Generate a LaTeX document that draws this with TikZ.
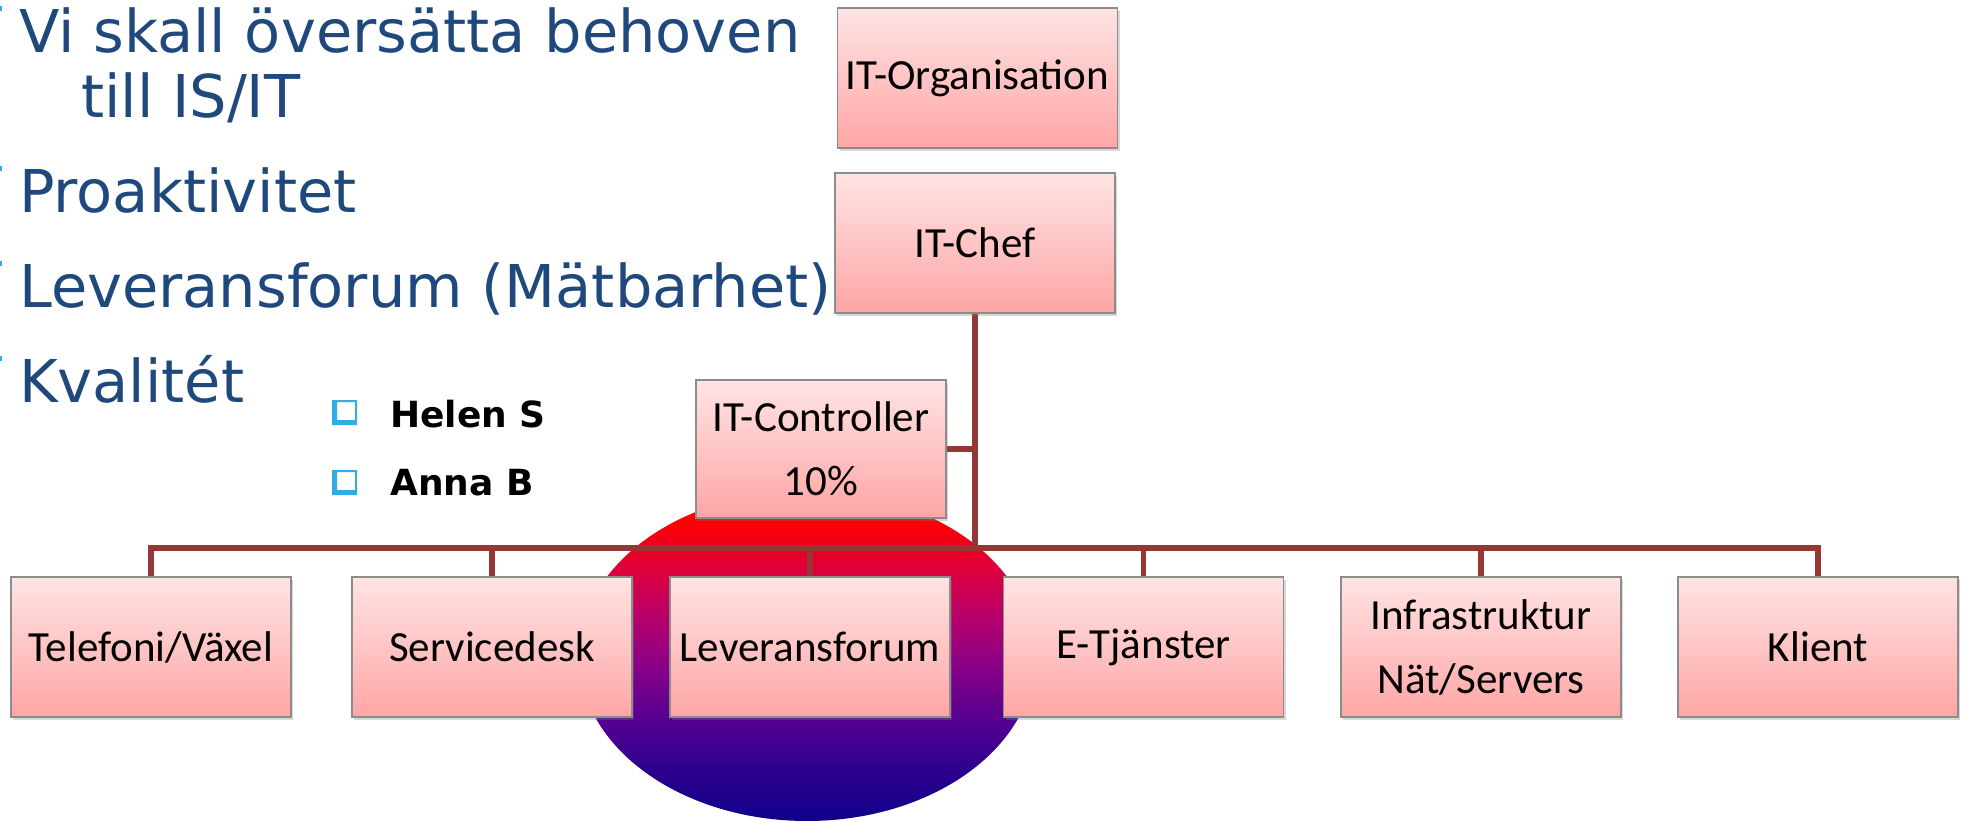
\documentclass[tikz,border=0pt]{standalone}
\usepackage{fontspec}
\setmainfont{Carlito}
\newfontfamily\leftfont{DejaVu Sans}
\usetikzlibrary{shadows}
\definecolor{txtblue}{HTML}{1F497D}
\definecolor{conn}{HTML}{953735}
\definecolor{boxedge}{HTML}{8C8C8C}
\definecolor{pinktop}{HTML}{FFE4E4}
\definecolor{pinkbot}{HTML}{FFA5A5}
\definecolor{bul}{HTML}{2EAEE4}
\pgfdeclareverticalshading{elshade}{100bp}{rgb(0bp)=(0.063,0,0.54); rgb(25bp)=(0.063,0,0.54); rgb(33.5bp)=(0.188,0,0.557); rgb(41bp)=(0.353,0,0.565); rgb(48.5bp)=(0.541,0,0.533); rgb(56bp)=(0.722,0,0.416); rgb(63.5bp)=(0.878,0,0.227); rgb(70.5bp)=(1,0,0); rgb(100bp)=(1,0,0)}
\pgfdeclarelayer{bg}
\pgfsetlayers{bg,main}
\tikzset{
  orgbox/.style={draw=boxedge, line width=1.2pt, top color=pinktop, bottom color=pinkbot,
    minimum width=280pt, minimum height=140pt, inner sep=0pt, align=center,
    font=\fontsize{43}{64}\selectfont,
    drop shadow={opacity=0.3, shadow xshift=2pt, shadow yshift=-3pt}},
  lefttxt/.style={inner sep=0pt, anchor=base west, text=txtblue, font=\leftfont\fontsize{59}{70}\selectfont},
  nametxt/.style={inner sep=0pt, anchor=base west, text=black, font=\leftfont\bfseries\fontsize{36}{44}\selectfont},
  connline/.style={draw=conn, line width=5.5pt, line join=miter}
}
\begin{document}
\begin{tikzpicture}[x=1pt,y=-1pt]
\useasboundingbox (0,0) rectangle (1966,821);

% left texts
\node[lefttxt] (t1) at (19,53) {Vi skall översätta behoven};
\node[lefttxt] (t2) at (81,118) {till IS/IT};
\node[lefttxt] (t3) at (19,213) {Proaktivitet};
\node[lefttxt] (t4) at (19,308) {Leveransforum (Mätbarhet)};
\node[lefttxt] (t5) at (19,402) {Kvalitét};
\foreach \yy in {6,166,261,356} \fill[bul] (0,\yy) rectangle (2,\yy+5);

% bullets
\fill[bul, even odd rule] (332,400) rectangle (357,425) (337,402) rectangle (355,420);
\fill[bul, even odd rule] (332,470) rectangle (357,495) (337,472) rectangle (355,490);
\node[nametxt] (helen) at (390,427) {Helen S};
\node[nametxt] (anna) at (390,495) {Anna B};

% boxes
\node[orgbox] (org) at (977.5,78) {IT-Organisation};
\node[orgbox] (chef) at (975,243) {IT-Chef};
\node[orgbox, minimum width=250pt, minimum height=138pt] (ctrl) at (821,449) {IT-Controller\\10\%};
\node[orgbox] (tel) at (151,647) {Telefoni/Växel};
\node[orgbox] (sd) at (492,647) {Servicedesk};
\node[orgbox] (lev) at (810,647) {Leveransforum};
\node[orgbox] (etj) at (1143.5,647) {E-Tjänster};
\node[orgbox] (infra) at (1481,647) {Infrastruktur\\Nät/Servers};
\node[orgbox] (kli) at (1818,647) {Klient};

\coordinate (busy) at (0,548);

\begin{pgfonlayer}{bg}
\fill[white] (0,0) rectangle (1966,821);
\shade[shading=elshade] (807,656) ellipse [x radius=228pt, y radius=165pt];
\draw[connline] (tel.north) -- (tel.north |- busy) -- (kli.north |- busy) -- (kli.north);
\draw[connline] (sd.north) -- (sd.north |- busy);
\draw[connline] (lev.north) -- (lev.north |- busy);
\draw[connline] (etj.north) -- (etj.north |- busy);
\draw[connline] (infra.north) -- (infra.north |- busy);
\draw[connline] (chef.south) -- (chef.south |- busy);
\draw[connline] (ctrl.east) -- (ctrl.east -| chef.south);
\end{pgfonlayer}
\end{tikzpicture}
\end{document}
